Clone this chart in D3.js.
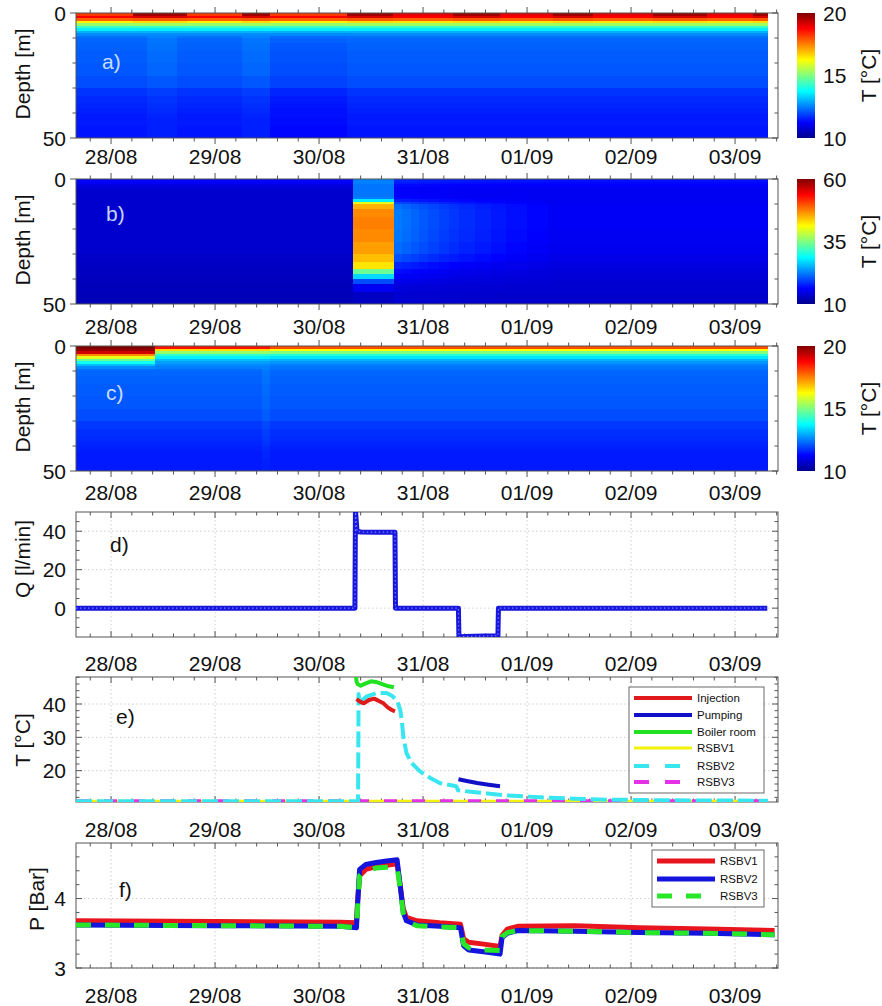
<!DOCTYPE html>
<html>
<head>
<meta charset="utf-8">
<script src="https://cdn.jsdelivr.net/npm/d3@7"></script>
<style>
  body { margin: 0; background: #fff; }
  svg { font-family: "Liberation Sans", Arial, sans-serif; }
</style>
</head>
<body>
<svg id="chart" width="882" height="1006"></svg>
<script>
// time axis in days, 0 = 28/08 00:00
const dayTicks = [0, 1, 2, 3, 4, 5, 6];
const dayLabels = ["28/08", "29/08", "30/08", "31/08", "01/09", "02/09", "03/09"];

// depth levels (m) bounding the heat-map cells
const depthLevels = [0, 1, 2, 3, 4, 5, 6, 7, 8, 9, 10, 12, 15, 20, 25, 30, 33, 36, 38, 40, 42, 45, 50];

// panel a) temperatures, surface part (0-9 m) and deep part (9-50 m)
const aTopHot  = [19.7, 19.1, 17.9, 16.6, 15.3, 14.3, 13.6, 13.0, 12.6];
const aTopWarm = [19.0, 18.8, 17.8, 16.5, 15.3, 14.3, 13.6, 13.0, 12.6];
const aTopMild = [18.2, 18.8, 17.8, 16.4, 15.2, 14.3, 13.6, 13.0, 12.6];
const aDeepBase = [12.35, 12.25, 12.2, 12.15, 12.1, 12.0, 11.75, 11.65, 11.6, 11.55, 11.5, 11.5, 11.45];
const aDeepPale = [12.5, 12.4, 12.35, 12.3, 12.25, 12.1, 11.85, 11.75, 11.7, 11.65, 11.6, 11.55, 11.55];
const aDeepDark = [12.3, 12.2, 12.1, 12.05, 12.0, 11.9, 11.6, 11.5, 11.45, 11.4, 11.4, 11.35, 11.3];
const aColStart = [-0.337, 0.21, 0.35, 0.63, 0.73, 1.26, 1.53, 2.27, 2.71, 3.29, 3.74, 4.25, 4.63, 5.21, 5.73, 6.17];
const aColTop   = ["mild", "hot", "hot", "hot", "mild", "hot", "mild", "hot", "warm", "hot", "warm", "hot", "warm", "hot", "warm", "hot"];
const aColDeep  = ["base", "base", "pale", "base", "base", "pale", "dark", "base", "base", "base", "base", "base", "base", "base", "base", "base"];

// panel b) full profiles; after the hot block a fading plume sits on the late profile
const bBase  = [16, 15.5, 14.5, 14, 13.5, 13.5, 13.5, 13.5, 13.5, 13.5, 13.5, 13.5, 13.5, 13.5, 13.5, 13.2, 13, 12.8, 12.6, 12.5, 12.4, 12.3];
const bHot   = [22.5, 22.5, 22, 22, 22, 22, 22, 22.5, 28, 40, 45, 47, 47.5, 47, 46, 44.5, 42.5, 34, 27, 20, 15.5, 13];
const bLate  = [17, 16.5, 16, 15.5, 15.5, 15.5, 15.5, 15.5, 15.5, 15.5, 15.8, 15.8, 15.8, 15.6, 15.4, 15, 14.5, 14.2, 14, 13.8, 13.6, 13.4];
const bPlumeShape = [0.15, 0.15, 0.1, 0.1, 0.1, 0.1, 0.1, 0.15, 0.35, 0.65, 0.9, 1, 1, 1, 0.95, 0.8, 0.55, 0.4, 0.3, 0.2, 0.1, 0.05];
const bColStart = [-0.337, 2.33, 2.72, 2.80, 2.88, 2.96, 3.05, 3.15, 3.25, 3.35, 3.50, 3.65, 3.80, 4.00, 4.20];
const bColProf  = ["base", "hot", "plume", "plume", "plume", "plume", "plume", "plume", "plume", "plume", "plume", "plume", "plume", "plume", "late"];
const bPlumeAmp = [0, 0, 6.5, 6.0, 5.4, 4.8, 4.2, 3.6, 3.1, 2.6, 2.1, 1.6, 1.1, 0.6, 0];

// panel c) surface part and deep part
const cTopEarly = [20, 19.8, 19.2, 17.4, 16.0, 14.8, 13.9, 13.1, 12.6];
const cTopMid   = [18.6, 16.6, 15.2, 14.2, 13.6, 13.1, 12.8, 12.6, 12.5];
const cTopLate  = [18.0, 16.2, 15.0, 14.1, 13.5, 13.0, 12.7, 12.5, 12.4];
const cDeepBase = [12.3, 12.25, 12.2, 12.15, 12.1, 12.0, 11.8, 11.7, 11.65, 11.6, 11.55, 11.5, 11.5];
const cDeepPale = [12.45, 12.4, 12.35, 12.3, 12.25, 12.15, 11.95, 11.85, 11.8, 11.75, 11.65, 11.6, 11.55];
const cColStart = [-0.337, 0.42, 1.45, 1.53];
const cColTop   = ["early", "mid", "mid", "late"];
const cColDeep  = ["base", "base", "pale", "base"];
const heatEnd = 6.317;

// panel d) flow rate Q [l/min]
const qDays = [-0.337, 2.345, 2.35, 2.365, 2.40, 2.55, 2.73, 2.735, 3.34, 3.345, 3.40, 3.60, 3.72, 3.725, 6.31];
const qFlow = [0, 0, 51, 40, 39.6, 39.5, 39.5, 0, 0, -15, -14.7, -14.5, -14.3, 0, 0];

// panel e) temperatures T [°C]
const injDays = [2.36, 2.39, 2.43, 2.48, 2.53, 2.57, 2.62, 2.66, 2.70, 2.73];
const injT    = [41.5, 40.8, 40.2, 41.2, 41.6, 41.0, 40.2, 39.0, 38.2, 37.8];
const pumpDays = [3.34, 3.42, 3.52, 3.63, 3.74];
const pumpT    = [17.4, 16.9, 16.3, 15.8, 15.3];
const boilDays = [2.355, 2.36, 2.37, 2.40, 2.45, 2.50, 2.56, 2.62, 2.67, 2.72];
const boilT    = [48.5, 46.8, 46.0, 45.5, 46.2, 46.8, 46.5, 45.8, 45.3, 45.0];
const rsbv1Days = [-0.337, 3.0, 6.317];
const rsbv1T    = [10.8, 10.8, 10.8];
const rsbv2Days = [-0.337, 2.375, 2.38, 2.39, 2.41, 2.46, 2.555, 2.65, 2.70, 2.75, 2.78, 2.795, 2.81, 2.84, 2.89, 2.97,
                   3.07, 3.16, 3.32, 3.335, 3.48, 3.64, 3.80, 3.96, 4.125, 4.45, 4.77, 5.09, 5.40, 5.73, 6.317];
const rsbv2T    = [10.8, 10.8, 43.0, 40.8, 41.0, 42.3, 43.3, 43.3, 42.5, 41.0, 38.3, 35.3, 30.3, 25.3, 22.3, 19.8,
                   17.8, 16.3, 15.3, 14.1, 13.6, 13.1, 12.6, 12.3, 12.0, 11.6, 11.3, 11.2, 11.1, 11.05, 11.0];
const rsbv3Days = [-0.337, 3.0, 6.317];
const rsbv3T    = [10.8, 10.8, 10.8];
const eNames = ["Injection", "Pumping", "Boiler room", "RSBV1", "RSBV2", "RSBV3"];

// panel f) pressure P [Bar]
const pDays = [-0.337, 1.0, 2.2, 2.36, 2.37, 2.39, 2.45, 2.55, 2.65, 2.75, 2.78, 2.81, 2.84, 2.94, 3.16, 3.36,
               3.39, 3.44, 3.60, 3.74, 3.76, 3.81, 3.91, 4.46, 5.08, 5.73, 6.38];
const pRsbv1 = [3.68, 3.67, 3.66, 3.65, 3.95, 4.33, 4.42, 4.46, 4.48, 4.50, 4.19, 3.85, 3.73, 3.68, 3.65, 3.63,
                3.42, 3.37, 3.34, 3.31, 3.47, 3.56, 3.60, 3.61, 3.58, 3.56, 3.54];
const pRsbv2 = [3.62, 3.61, 3.60, 3.58, 3.90, 4.42, 4.49, 4.52, 4.54, 4.56, 4.19, 3.80, 3.68, 3.62, 3.60, 3.58,
                3.32, 3.26, 3.23, 3.20, 3.44, 3.50, 3.54, 3.53, 3.51, 3.50, 3.48];
const pRsbv3 = [3.62, 3.61, 3.60, 3.58, 3.85, 4.33, 4.40, 4.44, 4.45, 4.46, 4.15, 3.78, 3.67, 3.61, 3.59, 3.58,
                3.35, 3.29, 3.26, 3.25, 3.45, 3.51, 3.54, 3.53, 3.51, 3.50, 3.48];
const fNames = ["RSBV1", "RSBV2", "RSBV3"];

// ---------- layout ----------
const svg = d3.select("#chart");
const X0 = 76, X1 = 778, PH = 125, FS = 21;
const x = d3.scaleLinear().domain([-0.337, 6.413]).range([X0, X1]);
const minorDays = d3.range(-0.2, 6.41, 0.2).filter(d => Math.abs(d - Math.round(d)) > 0.01);

const jet = d3.scaleLinear()
  .domain([0, 0.125, 0.375, 0.625, 0.875, 1])
  .range(["#00008f", "#0000ff", "#00ffff", "#ffff00", "#ff0000", "#800000"])
  .clamp(true);

const defs = svg.append("defs");
const grad = defs.append("linearGradient").attr("id", "jetbar")
  .attr("x1", 0).attr("y1", 1).attr("x2", 0).attr("y2", 0);
jet.domain().forEach(o => grad.append("stop").attr("offset", o).attr("stop-color", jet(o)));

function tick(g, x1, y1, x2, y2) {
  g.append("line").attr("x1", x1).attr("y1", y1).attr("x2", x2).attr("y2", y2)
    .attr("stroke", "#555").attr("stroke-width", 1);
}

function drawFrame(top, y, o) {
  const bottom = top + PH;
  const g = svg.append("g");
  if (o.grid) {
    const gg = g.append("g").attr("stroke", "#c4c4c4").attr("stroke-width", 0.8).attr("stroke-dasharray", "1.5,2.5");
    dayTicks.forEach(d => gg.append("line").attr("x1", x(d)).attr("x2", x(d)).attr("y1", top).attr("y2", bottom));
    o.yMajor.forEach(v => gg.append("line").attr("x1", X0).attr("x2", X1).attr("y1", y(v)).attr("y2", y(v)));
  }
  g.append("rect").attr("x", X0).attr("y", top).attr("width", X1 - X0).attr("height", PH)
    .attr("fill", "none").attr("stroke", "#555").attr("stroke-width", 1);
  const s = o.out ? -1 : 1;
  dayTicks.forEach(d => { tick(g, x(d), bottom, x(d), bottom - s * 6); tick(g, x(d), top, x(d), top + s * 6); });
  minorDays.forEach(d => { tick(g, x(d), bottom, x(d), bottom - s * 3.5); tick(g, x(d), top, x(d), top + s * 3.5); });
  o.yMajor.concat(o.yMinor).forEach(v => {
    const len = o.yMajor.includes(v) ? 6 : 3.5;
    tick(g, X0, y(v), X0 + s * len, y(v));
    tick(g, X1, y(v), X1 - len, y(v));
  });
  g.selectAll(".xl").data(dayTicks).join("text")
    .attr("x", d => x(d)).attr("y", bottom + o.xlab)
    .attr("text-anchor", "middle").attr("font-size", FS).attr("fill", "#111")
    .text((d, i) => dayLabels[i]);
  g.selectAll(".yl").data(o.yLabels).join("text")
    .attr("x", 66).attr("y", d => y(d)).attr("dy", "0.36em")
    .attr("text-anchor", "end").attr("font-size", FS).attr("fill", "#111")
    .text(d => d);
  g.append("text").attr("transform", `translate(${o.titleX},${o.titleY}) rotate(-90)`)
    .attr("text-anchor", "middle").attr("dy", "0.36em").attr("font-size", FS).attr("fill", "#111")
    .text(o.title);
  g.append("text").attr("x", o.tagX).attr("y", o.tagY).attr("font-size", FS)
    .attr("fill", o.tagColor).text(o.tag);
}

function drawHeat(top, lo, hi, colStart, profiles, tickVals, tag, xlab, tagX, tagY) {
  const y = d3.scaleLinear().domain([0, 50]).range([top, top + PH]);
  const color = v => jet((v - lo) / (hi - lo));
  const g = svg.append("g").attr("shape-rendering", "crispEdges");
  colStart.forEach((t0, i) => {
    const t1 = i + 1 < colStart.length ? colStart[i + 1] : heatEnd;
    profiles[i].forEach((v, k) => {
      g.append("rect")
        .attr("x", x(t0)).attr("width", x(t1) - x(t0))
        .attr("y", y(depthLevels[k])).attr("height", y(depthLevels[k + 1]) - y(depthLevels[k]))
        .attr("fill", color(v));
    });
  });
  drawFrame(top, y, {
    out: true, grid: false, yMajor: [0, 50], yMinor: [10, 20, 30, 40], yLabels: [0, 50],
    xlab, title: "Depth [m]", titleX: 22, titleY: top + 61, tag, tagX, tagY, tagColor: "rgba(225,240,255,0.9)"
  });
  // colour bar
  const cb = d3.scaleLinear().domain([lo, hi]).range([top + PH, top]);
  svg.append("rect").attr("x", 797).attr("y", cb(hi)).attr("width", 18).attr("height", cb(lo) - cb(hi))
    .attr("fill", "url(#jetbar)");
  svg.selectAll(null).data(tickVals).join("text")
    .attr("x", 823).attr("y", d => cb(d)).attr("dy", "0.36em")
    .attr("font-size", FS).attr("fill", "#111").text(d => d);
  svg.append("text").attr("transform", `translate(868,${top + PH / 2}) rotate(-90)`)
    .attr("text-anchor", "middle").attr("dy", "0.36em").attr("font-size", FS).attr("fill", "#111")
    .text("T [°C]");
}

// ---------- panels a, b, c ----------
const aTops = { hot: aTopHot, warm: aTopWarm, mild: aTopMild };
const aDeeps = { base: aDeepBase, pale: aDeepPale, dark: aDeepDark };
drawHeat(13, 10, 20, aColStart, aColStart.map((_, i) => aTops[aColTop[i]].concat(aDeeps[aColDeep[i]])),
  [10, 15, 20], "a)", 26, 102, 69);

const bProfiles = bColProf.map((k, i) =>
  k === "base" ? bBase : k === "hot" ? bHot : bLate.map((v, j) => v + bPlumeAmp[i] * bPlumeShape[j]));
drawHeat(179, 10, 60, bColStart, bProfiles, [10, 35, 60], "b)", 30, 106, 221);

const cTops = { early: cTopEarly, mid: cTopMid, late: cTopLate };
const cDeeps = { base: cDeepBase, pale: cDeepPale };
drawHeat(346, 10, 20, cColStart, cColStart.map((_, i) => cTops[cColTop[i]].concat(cDeeps[cColDeep[i]])),
  [10, 15, 20], "c)", 29, 106, 400);

// ---------- line panels ----------
let clipId = 0;
function linePanel(top, domain, o) {
  const y = d3.scaleLinear().domain(domain).range([top + PH, top]);
  const id = "clip" + (clipId++);
  defs.append("clipPath").attr("id", id).append("rect")
    .attr("x", X0).attr("y", top).attr("width", X1 - X0).attr("height", PH);
  drawFrame(top, y, Object.assign({ out: false, grid: true }, o));
  const g = svg.append("g").attr("clip-path", `url(#${id})`);
  return { y, g };
}

function addLine(p, days, vals, stroke, width, dash) {
  const line = d3.line().x(d => x(d[0])).y(d => p.y(d[1]));
  p.g.append("path").datum(days.map((d, i) => [d, vals[i]]))
    .attr("d", line).attr("fill", "none").attr("stroke", stroke)
    .attr("stroke-width", width).attr("stroke-linejoin", "round")
    .attr("stroke-dasharray", dash || null);
}

function legend(box, names, styles, rowY) {
  const g = svg.append("g");
  g.append("rect").attr("x", box[0]).attr("y", box[1]).attr("width", box[2]).attr("height", box[3])
    .attr("fill", "#fff").attr("stroke", "#444").attr("stroke-width", 0.8);
  names.forEach((n, i) => {
    const yy = rowY[i];
    g.append("line").attr("x1", box[0] + 5).attr("x2", box[0] + 63).attr("y1", yy).attr("y2", yy)
      .attr("stroke", styles[i][0]).attr("stroke-width", styles[i][1])
      .attr("stroke-dasharray", styles[i][2] || null);
    g.append("text").attr("x", box[0] + 68).attr("y", yy).attr("dy", "0.36em")
      .attr("font-size", 11.5).attr("fill", "#111").text(n);
  });
}

// d)
const pd = linePanel(512, [-15, 50], {
  yMajor: [0, 20, 40], yMinor: [-10, -5, 5, 10, 15, 25, 30, 35, 45], yLabels: [0, 20, 40],
  xlab: 34, title: "Q [l/min]", titleX: 22, titleY: 559, tag: "d)", tagX: 110, tagY: 552, tagColor: "#111"
});
addLine(pd, qDays, qFlow, "#1616dc", 5);
addLine(pd, qDays, qFlow, "#7a7aff", 1.2, "1.5,2.5");

// e)
const pe = linePanel(677, [10.6, 48.1], {
  yMajor: [20, 30, 40], yMinor: d3.range(12, 48.1, 2).filter(v => v % 10 !== 0), yLabels: [20, 30, 40],
  xlab: 35, title: "T [°C]", titleX: 22, titleY: 740, tag: "e)", tagX: 116, tagY: 724, tagColor: "#111"
});
const eStyles = [["#e01a1a", 4], ["#1010c8", 4], ["#22e022", 4], ["#f2f20a", 3], ["#38e6f0", 4, "16,5"], ["#e632e6", 4, "13,15"]];
addLine(pe, rsbv1Days, rsbv1T, eStyles[3][0], eStyles[3][1]);
addLine(pe, rsbv3Days, rsbv3T, eStyles[5][0], eStyles[5][1], eStyles[5][2]);
addLine(pe, rsbv2Days, rsbv2T, eStyles[4][0], eStyles[4][1], eStyles[4][2]);
addLine(pe, boilDays, boilT, eStyles[2][0], eStyles[2][1]);
addLine(pe, injDays, injT, eStyles[0][0], eStyles[0][1]);
addLine(pe, pumpDays, pumpT, eStyles[1][0], eStyles[1][1]);
legend([629, 687, 135, 106], eNames,
  [eStyles[0], eStyles[1], eStyles[2], eStyles[3], ["#38e6f0", 4, "15,16"], ["#e632e6", 4, "15,16"]],
  [698, 715, 732, 748, 766, 782]);

// f)
const pf = linePanel(843, [3, 4.8], {
  yMajor: [3, 4], yMinor: [3.2, 3.4, 3.6, 3.8, 4.2, 4.4, 4.6], yLabels: [3, 4],
  xlab: 35, title: "P [Bar]", titleX: 36, titleY: 899, tag: "f)", tagX: 119, tagY: 897, tagColor: "#111"
});
const fStyles = [["#e8141e", 5], ["#1414dc", 5], ["#28e628", 5, "15,14"]];
addLine(pf, pDays, pRsbv1, fStyles[0][0], fStyles[0][1]);
addLine(pf, pDays, pRsbv2, fStyles[1][0], fStyles[1][1]);
addLine(pf, pDays, pRsbv3, fStyles[2][0], fStyles[2][1], fStyles[2][2]);
legend([652, 850, 112, 57], fNames, fStyles, [861, 879, 896]);
</script>
</body>
</html>
